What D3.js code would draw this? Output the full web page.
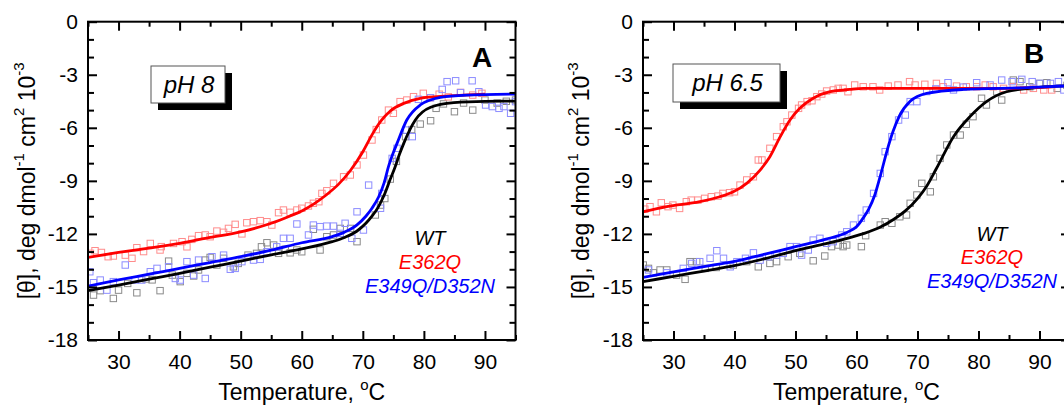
<!DOCTYPE html>
<html>
<head>
<meta charset="utf-8">
<script src="https://cdn.jsdelivr.net/npm/d3@7"></script>
<style>
html,body{margin:0;padding:0;background:#fff;}
svg{display:block;}
text{font-family:Arial,"Liberation Sans",sans-serif;}
</style>
</head>
<body>
<svg id="chart" width="1064" height="407"></svg>
<script>
// ---------- data (temperature °C, [θ] ×10^-3) ----------
const xTicksMajor = [30, 40, 50, 60, 70, 80, 90];
const xTicksMinor = [25, 35, 45, 55, 65, 75, 85, 95];
const yTicksMajor = [0, -3, -6, -9, -12, -15, -18];
const yTicksMinor = [-1, -2, -4, -5, -7, -8, -10, -11, -13, -14, -16, -17];
const legendLabels = ["WT", "E362Q", "E349Q/D352N"];
const panelLetters = ["A", "B"];
const phLabels = ["pH 8", "pH 6.5"];

// Panel A (pH 8) fitted curves
const aWtFit = [[25,-15.21],[30,-14.9],[35,-14.56],[40,-14.23],[45,-13.88],[50,-13.54],[55,-13.18],[60,-12.85],[65,-12.44],[67,-12.2],[69,-11.85],[70.5,-11.4],[71.5,-11.0],[72.5,-10.5],[73.5,-9.8],[74.5,-8.9],[75.3,-8.2],[76,-7.5],[76.7,-6.88],[78.6,-5.56],[81.1,-4.84],[84.9,-4.58],[90,-4.5],[95,-4.49]];
const aE362QFit = [[25,-13.33],[30,-13.05],[35,-12.8],[40,-12.53],[45,-12.2],[50,-11.88],[55,-11.4],[58,-11.0],[60,-10.7],[62,-10.3],[64,-9.8],[66,-9.2],[68,-8.4],[70,-7.35],[71.5,-6.4],[73,-5.6],[74.5,-5.05],[76.7,-4.62],[79.4,-4.33],[84,-4.2],[90,-4.09]];
const aE349QFit = [[25,-14.95],[30,-14.6],[35,-14.28],[40,-13.95],[45,-13.62],[50,-13.29],[55,-12.92],[60,-12.5],[65,-12.15],[67,-11.9],[69,-11.5],[70.5,-11.0],[71.5,-10.55],[72.6,-9.9],[73.5,-9.1],[74.2,-8.2],[75,-7.4],[75.6,-6.88],[77.2,-5.56],[79.4,-4.71],[82.7,-4.28],[87,-4.15],[95,-4.09]];

// Panel A measured points
const aWtPts = [[25.9,-15.46],[27,-15.21],[29.15,-15.65],[30,-15.18],[31.5,-14.8],[33,-15.33],[34.5,-14.55],[35.5,-14.6],[36.8,-15.21],[38.2,-13.54],[38.8,-14.33],[40.1,-14.7],[41.2,-14.23],[42.3,-14.38],[43.1,-14.04],[44.2,-13.48],[45,-13.33],[46.1,-13.76],[47.2,-13.38],[48.8,-13.86],[49.6,-13.67],[51.2,-13.2],[52.6,-13.1],[53.4,-12.73],[54.3,-12.5],[55.4,-12.63],[56.2,-13.1],[57.3,-12.87],[58.1,-13.07],[59.2,-12.91],[60,-13.01],[61.9,-11.74],[63,-12.91],[64.1,-12.16],[65.2,-12.06],[66.3,-11.69],[68,-11.69],[69.05,-12.44],[72.05,-10.93],[72.9,-10.37],[73.6,-10.0],[74.5,-8.9],[75.5,-7.9],[77,-6.5],[78,-6.1],[79.4,-5.79],[81.1,-5.6],[82,-4.9],[83.2,-4.65],[85,-5.09],[86.5,-4.6],[88,-5.0],[90,-4.43],[92,-4.6],[93.5,-4.5],[95,-4.43]];
const aE362QPts = [[25.4,-13.1],[26.15,-12.95],[27.2,-13.05],[28.3,-13.29],[29.15,-13.25],[31.1,-13.2],[32.2,-13.38],[33,-12.78],[34.1,-13.0],[35.2,-12.54],[36.8,-12.91],[37,-12.72],[39,-12.54],[40.4,-12.44],[41.2,-12.73],[42,-12.31],[43.1,-12.1],[44.2,-12.06],[45,-12.16],[46.1,-11.84],[47.2,-11.91],[48,-11.69],[49.1,-11.46],[50.2,-12.0],[51,-11.37],[52.1,-11.31],[53.2,-11.25],[54.3,-11.31],[55.1,-11.5],[56.2,-10.8],[57,-10.65],[58.1,-10.78],[59.2,-10.65],[60,-10.55],[61.1,-10.42],[61.9,-10.27],[62.8,-10.18],[63.3,-9.71],[64.1,-9.56],[65.2,-9.14],[66.85,-8.77],[67.95,-8.67],[69.05,-8.1],[70.1,-7.54],[71.5,-6.69],[72.2,-6.1],[73.1,-5.56],[74.2,-5.0],[75,-5.18],[76.1,-4.52],[77.2,-4.43],[78.3,-4.24],[79.9,-4.05],[81,-4.3],[82.5,-4.1],[84,-4.25],[86,-4.0],[88,-4.15],[89.5,-4.05]];
const aE349QPts = [[25.3,-14.14],[25.9,-14.76],[27,-14.61],[28.1,-15.18],[29.15,-14.7],[31.1,-13.76],[32.7,-14.61],[33.8,-14.61],[35.2,-14.14],[36.3,-13.95],[38.2,-13.86],[39.3,-14.52],[40.1,-14.61],[41.2,-13.57],[42.3,-14.33],[43.1,-13.48],[44.2,-14.52],[45.3,-13.29],[47.2,-13.2],[48.3,-14.0],[49.1,-13.95],[50.2,-13.57],[52.1,-13.48],[53.2,-13.44],[54.3,-13.01],[55.9,-12.73],[57,-12.25],[58.1,-12.25],[59.2,-11.44],[61.1,-12.06],[61.9,-11.5],[63,-11.59],[64.1,-11.56],[65.2,-11.56],[66.3,-11.97],[67.1,-11.4],[68.2,-12.25],[69.05,-10.75],[70.1,-11.78],[70.95,-9.24],[72.9,-10.55],[73.1,-9.71],[74.8,-7.73],[75.6,-7.16],[77.2,-6.13],[78.1,-6.5],[79.1,-4.39],[81.1,-4.3],[83,-3.83],[83.8,-3.39],[85.2,-3.34],[86,-4.01],[87.9,-3.34],[89,-3.96],[90.1,-4.71],[91.2,-4.8],[92.3,-4.9],[93.1,-4.8],[94.2,-5.18],[95,-4.52]];

// Panel B (pH 6.5) fitted curves
const bWtFit = [[25,-14.7],[30,-14.4],[35,-14.1],[40,-13.8],[45,-13.4],[50,-12.95],[55,-12.55],[58,-12.3],[61,-12.0],[64,-11.6],[66,-11.2],[68,-10.7],[70,-10.0],[71.5,-9.3],[73.1,-8.3],[75.9,-6.5],[78.6,-5.37],[81.3,-4.52],[84.6,-3.96],[88.4,-3.77],[95,-3.62]];
const bE362QFit = [[25,-10.75],[28.9,-10.46],[34.3,-10.18],[37.6,-9.9],[39.8,-9.62],[42,-9.14],[44.2,-8.39],[45.8,-7.64],[47.5,-6.5],[49.1,-5.56],[50.7,-4.9],[52.9,-4.33],[55.7,-3.96],[58.9,-3.83],[61.1,-3.77],[72,-3.77],[83,-3.77],[92.2,-3.68]];
const bE349QFit = [[25,-14.46],[30,-14.15],[35,-13.85],[40,-13.55],[45,-13.15],[50,-12.72],[55,-12.3],[58.5,-11.9],[60,-11.6],[61,-11.15],[62,-10.6],[63,-9.8],[64,-8.6],[65,-7.3],[66,-6.2],[67,-5.35],[68.8,-4.5],[71.5,-4.05],[77.5,-3.83],[88,-3.73],[95,-3.62]];

// Panel B measured points
const bWtPts = [[25.05,-13.76],[25.9,-13.95],[26.7,-14.2],[27.8,-14.04],[28.9,-14.04],[30.5,-14.33],[31.9,-14.57],[32.7,-13.57],[33.8,-13.57],[35.2,-13.95],[37,-13.9],[39.8,-13.76],[42,-13.57],[43.9,-13.86],[45.8,-13.67],[46.9,-13.57],[48.8,-13.29],[50.7,-13.1],[52.9,-13.52],[54.8,-13.25],[55.9,-12.72],[57,-12.63],[57.8,-12.72],[58.4,-12.63],[60.8,-12.72],[61.5,-12.1],[63.9,-11.5],[64.7,-11.31],[65.8,-11.4],[67.1,-11.03],[68.2,-10.93],[68.8,-10.27],[69.9,-9.8],[70.7,-9.14],[72.1,-9.62],[72.6,-8.77],[73.7,-7.73],[74.8,-6.97],[75.9,-6.41],[77,-6.41],[78,-5.8],[79.1,-5.37],[80.5,-4.33],[81.3,-4.71],[83,-3.96],[83.8,-4.43],[85.7,-3.3],[86.8,-3.39],[88.4,-3.68],[90,-3.49],[91.2,-3.45],[92.9,-3.77],[94.5,-3.6]];
const bE362QPts = [[25.3,-10.6],[26.15,-10.46],[27.2,-10.75],[28,-10.24],[29.1,-10.46],[29.9,-10.37],[31,-10.56],[32.1,-10.18],[32.9,-10.09],[34,-10.09],[35.1,-9.99],[36.2,-9.9],[37.3,-9.86],[38.1,-9.71],[39.2,-9.67],[40,-9.62],[40.9,-9.24],[42,-8.95],[43.1,-8.77],[43.9,-7.82],[44.5,-7.82],[45.8,-7.16],[46.9,-6.5],[48,-5.94],[48.6,-5.66],[49.4,-5.28],[50.5,-4.9],[51,-4.71],[51.9,-4.52],[52.7,-4.47],[53.5,-4.24],[54.3,-4.09],[55.1,-3.92],[56.2,-3.86],[57,-3.77],[57.8,-3.77],[58.6,-3.96],[59.7,-3.58],[61.1,-3.68],[62.7,-3.68],[63.8,-3.86],[65.2,-3.64],[66.8,-3.58],[68.7,-3.39],[69.6,-3.58],[71.2,-3.54],[73.1,-3.49],[74.2,-3.68],[76.4,-3.64],[78,-3.68],[79.7,-3.68],[81.1,-3.58],[82.4,-3.68],[84.1,-3.77],[85.7,-3.68],[87.4,-3.86],[89,-3.77],[90.7,-3.86],[92,-3.86]];
const bE349QPts = [[25.9,-14.04],[28.9,-14.2],[31.6,-13.95],[33,-13.67],[34.3,-13.57],[36,-13.38],[37.1,-12.95],[38.2,-13.38],[39.3,-13.86],[40.4,-13.57],[41.8,-13.38],[43.1,-13.07],[44.2,-13.48],[45.6,-13.29],[46.9,-13.2],[48,-13.1],[49.1,-12.72],[50.2,-12.72],[51,-13.2],[52.1,-12.91],[52.9,-12.35],[54,-12.25],[55.1,-12.53],[56.2,-12.44],[57.6,-12.06],[58.4,-11.88],[59.5,-11.5],[60.8,-11.12],[61.6,-10.65],[62.8,-9.71],[63.9,-8.58],[64.7,-7.35],[65.8,-6.5],[66.9,-5.56],[68,-5.28],[68.8,-4.52],[69.9,-4.52],[71.5,-3.95],[73,-3.8],[75,-3.45],[75.9,-3.86],[77.5,-3.7],[79.7,-3.45],[81.9,-3.58],[83.8,-3.3],[85.5,-3.39],[87.1,-3.26],[88.8,-3.39],[90.1,-3.49],[91.8,-3.49],[93.1,-3.39],[94,-3.86]];

// ---------- drawing ----------
const svg = d3.select("#chart");
const lineColors = {wt: "#000000", e362q: "#ff0000", e349q: "#0000ff"};
const ptColors = {wt: "#8a8a8a", e362q: "#ff8c8c", e349q: "#8c8cff"};

const panels = [
  {x0: 88, x1: 515.5, letter: panelLetters[0], letterX: 482, letterY: 67,
   ph: phLabels[0], box: [151, 66, 74, 37], phSize: 24,
   legX: 430, legY: [245, 269, 293], titleX: 27,
   fits: {wt: aWtFit, e362q: aE362QFit, e349q: aE349QFit},
   pts: {wt: aWtPts, e362q: aE362QPts, e349q: aE349QPts}},
  {x0: 643, x1: 1070, letter: panelLetters[1], letterX: 1034, letterY: 63,
   ph: phLabels[1], box: [673, 64, 107, 38], phSize: 24,
   legX: 992, legY: [241, 264, 288], titleX: 581,
   fits: {wt: bWtFit, e362q: bE362QFit, e349q: bE349QFit},
   pts: {wt: bWtPts, e362q: bE362QPts, e349q: bE349QPts}}
];

const yTop = 21.7, yBot = 340;
const fmt = d => String(d);

panels.forEach(p => {
  const x = d3.scaleLinear().domain([25, 95]).range([p.x0, p.x1]);
  const y = d3.scaleLinear().domain([-18, 0]).range([yBot, yTop]);
  const g = svg.append("g");

  const clipId = "clip" + p.letter;
  svg.append("clipPath").attr("id", clipId).append("rect")
    .attr("x", p.x0).attr("y", yTop).attr("width", p.x1 - p.x0).attr("height", yBot - yTop);

  // scatter points
  const pg = g.append("g").attr("clip-path", `url(#${clipId})`);
  ["wt", "e362q", "e349q"].forEach(k => {
    pg.selectAll(null).data(p.pts[k]).join("rect")
      .attr("x", d => x(d[0]) - 3.2).attr("y", d => y(d[1]) - 3.2)
      .attr("width", 6.4).attr("height", 6.4)
      .attr("fill", "none").attr("stroke", ptColors[k]).attr("stroke-width", 1);
  });

  // fitted lines
  const line = d3.line().x(d => x(d[0])).y(d => y(d[1])).curve(d3.curveMonotoneX);
  ["wt", "e362q", "e349q"].forEach(k => {
    pg.append("path").datum(p.fits[k]).attr("d", line)
      .attr("fill", "none").attr("stroke", lineColors[k]).attr("stroke-width", 2.8)
      .attr("stroke-linejoin", "round");
  });

  // axes (ticks inward)
  const axStyle = sel => {
    sel.select(".domain").remove();
    sel.selectAll(".tick line").attr("stroke", "#000").attr("stroke-width", 2);
    sel.selectAll("text").attr("font-size", 21).attr("fill", "#000")
      .attr("font-family", 'Arial,"Liberation Sans",sans-serif');
  };
  g.append("g").attr("transform", `translate(0,${yBot})`)
    .call(d3.axisBottom(x).tickValues(xTicksMajor).tickSize(-9).tickPadding(14).tickFormat(fmt)).call(axStyle);
  g.append("g").attr("transform", `translate(0,${yBot})`)
    .call(d3.axisBottom(x).tickValues(xTicksMinor).tickSize(-5).tickFormat("")).call(axStyle);
  g.append("g").attr("transform", `translate(0,${yTop})`)
    .call(d3.axisTop(x).tickValues(xTicksMajor).tickSize(-9).tickFormat("")).call(axStyle);
  g.append("g").attr("transform", `translate(0,${yTop})`)
    .call(d3.axisTop(x).tickValues(xTicksMinor).tickSize(-5).tickFormat("")).call(axStyle);
  g.append("g").attr("transform", `translate(${p.x0},0)`)
    .call(d3.axisLeft(y).tickValues(yTicksMajor).tickSize(-9).tickPadding(10).tickFormat(fmt)).call(axStyle);
  g.append("g").attr("transform", `translate(${p.x0},0)`)
    .call(d3.axisLeft(y).tickValues(yTicksMinor).tickSize(-6).tickFormat("")).call(axStyle);
  g.append("g").attr("transform", `translate(${p.x1},0)`)
    .call(d3.axisRight(y).tickValues(yTicksMajor).tickSize(-9).tickFormat("")).call(axStyle);
  g.append("g").attr("transform", `translate(${p.x1},0)`)
    .call(d3.axisRight(y).tickValues(yTicksMinor).tickSize(-6).tickFormat("")).call(axStyle);

  // frame
  g.append("rect").attr("x", p.x0).attr("y", yTop).attr("width", p.x1 - p.x0).attr("height", yBot - yTop)
    .attr("fill", "none").attr("stroke", "#000").attr("stroke-width", 2);

  // panel letter
  g.append("text").attr("x", p.letterX).attr("y", p.letterY).attr("text-anchor", "middle")
    .attr("font-size", 28).attr("font-weight", "bold").text(p.letter);

  // pH box with shadow
  const [bx, by, bw, bh] = p.box;
  g.append("rect").attr("x", bx + 7).attr("y", by + 7).attr("width", bw).attr("height", bh).attr("fill", "#000");
  g.append("rect").attr("x", bx).attr("y", by).attr("width", bw).attr("height", bh)
    .attr("fill", "#fff").attr("stroke", "#555").attr("stroke-width", 1);
  g.append("text").attr("x", bx + bw / 2 + 1).attr("y", by + bh / 2 + 8).attr("text-anchor", "middle")
    .attr("font-size", p.phSize).attr("font-style", "italic").text(p.ph);

  // legend
  const legCols = [lineColors.wt, lineColors.e362q, lineColors.e349q];
  legendLabels.forEach((t, i) => {
    g.append("text").attr("x", p.legX).attr("y", p.legY[i]).attr("text-anchor", "middle")
      .attr("font-size", 20).attr("font-style", "italic").attr("fill", legCols[i]).text(t);
  });

  // x title
  const xt = g.append("text").attr("x", (p.x0 + p.x1) / 2).attr("y", 400)
    .attr("text-anchor", "middle").attr("font-size", 23);
  xt.append("tspan").text("Temperature, ");
  xt.append("tspan").attr("font-size", 15).attr("dy", -10).text("o");
  xt.append("tspan").attr("dy", 10).text("C");

  // y title
  const cy = (yTop + yBot) / 2;
  const yt = g.append("text").attr("transform", `translate(${p.titleX},${cy}) rotate(-90)`)
    .attr("text-anchor", "middle").attr("dominant-baseline", "central").attr("font-size", 23);
  yt.append("tspan").text("[θ], deg dmol");
  yt.append("tspan").attr("font-size", 15).attr("dy", -9).text("-1");
  yt.append("tspan").attr("dy", 9).text(" cm");
  yt.append("tspan").attr("font-size", 15).attr("dy", -9).text("2");
  yt.append("tspan").attr("dy", 9).text(" 10");
  yt.append("tspan").attr("font-size", 15).attr("dy", -9).text("-3");
});
</script>
</body>
</html>
